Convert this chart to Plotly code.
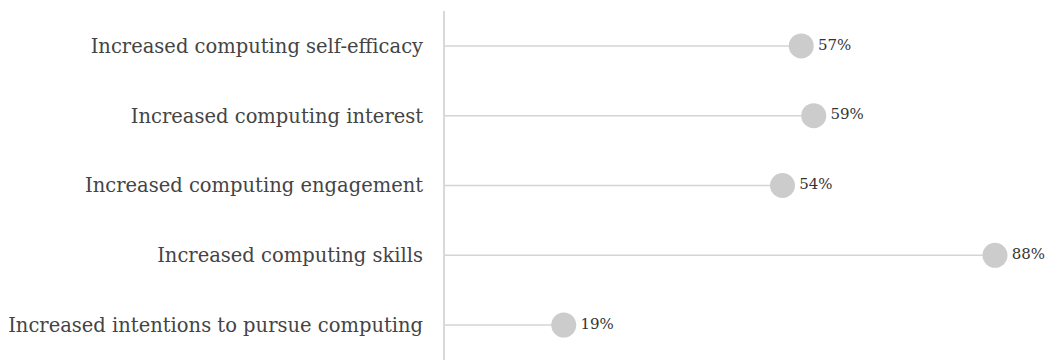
import plotly.graph_objects as go

categories = [
    "Increased computing self-efficacy",
    "Increased computing interest",
    "Increased computing engagement",
    "Increased computing skills",
    "Increased intentions to pursue computing",
]
values = [57, 59, 54, 88, 19]
value_labels = [f"{v}%" for v in values]

FONT = "DejaVu Serif"

fig = go.Figure()
for cat, v in zip(categories, values):
    fig.add_trace(go.Scatter(
        x=[0, v], y=[cat, cat], mode="lines",
        line=dict(color="#d4d4d4", width=1.5),
        hoverinfo="skip", showlegend=False,
    ))
fig.add_trace(go.Scatter(
    x=values, y=categories, mode="markers+text",
    marker=dict(size=25, color="#cccccc"),
    text=value_labels, textposition="middle right",
    textfont=dict(family=FONT, size=15, color="#333333"),
    showlegend=False, cliponaxis=False,
))

fig.update_layout(
    width=1050, height=360,
    margin=dict(l=445, r=0, t=11, b=0),
    paper_bgcolor="white", plot_bgcolor="white",
    font=dict(family=FONT, color="#444444"),
    xaxis=dict(range=[0, 96.8], visible=False, showgrid=False, zeroline=False),
    yaxis=dict(
        categoryorder="array", categoryarray=categories[::-1],
        range=[-0.5, 4.5], showgrid=False, zeroline=False,
        showline=True, linecolor="#d9d9d9", linewidth=2,
        ticks="", ticklabelstandoff=16,
        tickfont=dict(family=FONT, size=19.5, color="#444444"),
    ),
)

fig.write_html("out.html", config={"displayModeBar": False},
               post_script="document.body.style.margin='0';")
